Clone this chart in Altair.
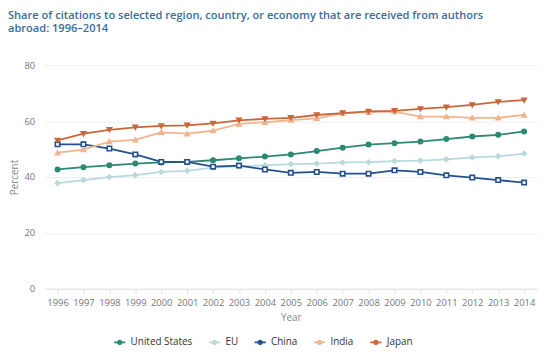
import altair as alt
import pandas as pd

years = list(range(1996, 2015))
series_names = ["United States", "EU", "China", "India", "Japan"]
us = [42.7, 43.5, 44.2, 44.8, 45.2, 45.4, 46.0, 46.7, 47.3, 48.1, 49.3, 50.5, 51.6, 52.1, 52.7, 53.6, 54.5, 55.1, 56.3]
eu = [37.8, 38.9, 40.0, 40.7, 41.8, 42.2, 43.4, 43.8, 44.2, 44.6, 44.8, 45.2, 45.3, 45.7, 45.9, 46.3, 47.0, 47.4, 48.4]
china = [51.7, 51.7, 50.2, 48.1, 45.4, 45.4, 43.7, 44.1, 42.7, 41.5, 41.8, 41.2, 41.2, 42.4, 41.8, 40.6, 39.8, 38.9, 38.0]
india = [48.7, 49.8, 52.7, 53.3, 56.0, 55.5, 56.6, 59.0, 59.6, 60.4, 61.0, 62.8, 63.2, 63.4, 61.6, 61.6, 61.2, 61.2, 62.2]
japan = [53.1, 55.5, 56.9, 57.8, 58.3, 58.5, 59.2, 60.3, 60.8, 61.2, 62.2, 62.9, 63.5, 63.7, 64.4, 65.0, 65.8, 66.9, 67.5]
colors = ["#2b8a72", "#b9dadb", "#24508e", "#f2b48f", "#c9663a"]
shapes = ["circle", "diamond", "square", "triangle-up", "triangle-down"]

rows = []
for name, vals in zip(series_names, [us, eu, china, india, japan]):
    for y, v in zip(years, vals):
        rows.append({"Year": str(y), "Percent": v, "Series": name, "Marker": name})
df = pd.DataFrame(rows)

x = alt.X("Year:O", title="Year",
          scale=alt.Scale(paddingOuter=0.5),
          axis=alt.Axis(labelAngle=0, labelColor="#777777", labelFontSize=9.5,
                        titleColor="#888888", titleFontSize=10, titleFontWeight="normal",
                        domainColor="#e3e3e3", tickColor="#e3e3e3", tickSize=5,
                        labelPadding=4, titlePadding=6, grid=False))
y = alt.Y("Percent:Q", title="Percent",
          scale=alt.Scale(domain=[0, 80]),
          axis=alt.Axis(values=[0, 20, 40, 60, 80], labelColor="#777777", labelFontSize=9.5,
                        titleColor="#888888", titleFontSize=10, titleFontWeight="normal",
                        domain=False, ticks=False, gridColor="#eeeeee", labelPadding=10,
                        titlePadding=5))
color = alt.Color("Series:N", scale=alt.Scale(domain=series_names, range=colors),
                  legend=alt.Legend(title=None, orient="none", direction="horizontal",
                                    legendX=70, legendY=274,
                                    symbolType="M-1.2,0L1.2,0M-0.4,0A0.4,0.4 0 1,1 0.4,0A0.4,0.4 0 1,1 -0.4,0Z",
                                    symbolSize=90, symbolStrokeWidth=1.8, labelOffset=5,
                                    labelFontSize=10, labelColor="#333333",
                                    columnPadding=12))

base = alt.Chart(df)
lines = base.mark_line(strokeWidth=1.8).encode(x=x, y=y, color=color)
mcolor = alt.Color("Marker:N", scale=alt.Scale(domain=series_names, range=colors), legend=None)
points = base.mark_point(size=20, strokeWidth=1.6, opacity=1).encode(
    x=x, y=y,
    stroke=mcolor,
    shape=alt.Shape("Marker:N", scale=alt.Scale(domain=series_names, range=shapes), legend=None),
    fill=alt.condition(alt.datum.Marker == "China", alt.value("white"), mcolor),
)

chart = alt.layer(lines, points).resolve_scale(color="independent").properties(
    width=498, height=226,
    title=alt.Title(["Share of citations to selected region, country, or economy that are received from authors",
                     "abroad: 1996–2014"],
                    anchor="start", frame="group", dx=-37, offset=26, fontSize=11.2, fontWeight=600,
                    color="#3a6c9c", font="Open Sans", lineHeight=14),
    autosize=alt.AutoSizeParams(type="none"),
    padding={"left": 37, "top": 56, "right": 5, "bottom": 58},
).configure(font="Open Sans").configure_view(stroke=None)

chart.save("out.html", embed_options={"renderer": "svg", "actions": False})
